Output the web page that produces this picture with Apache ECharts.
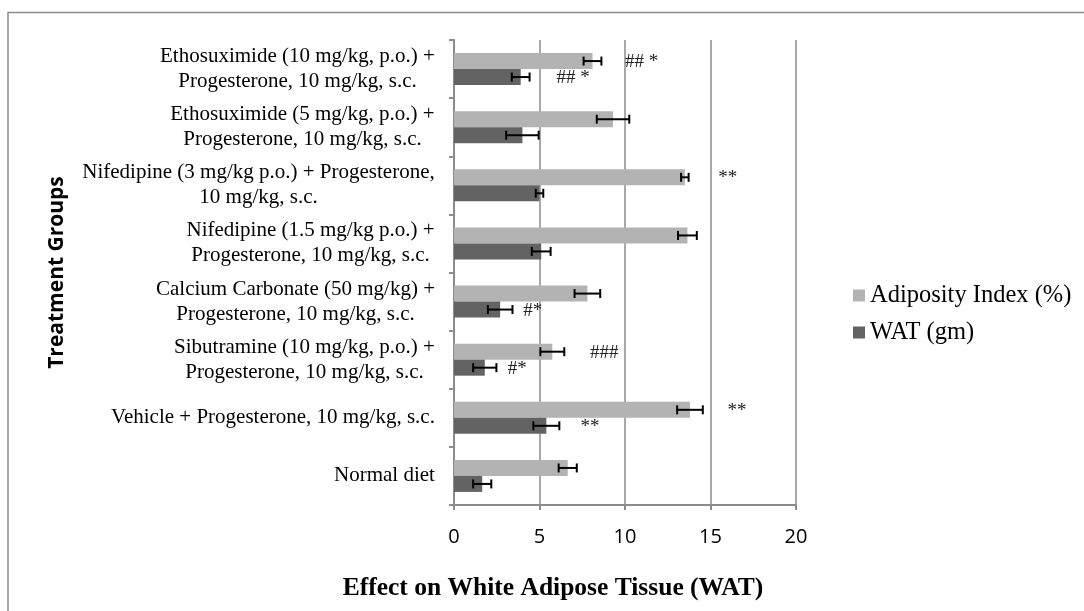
<!DOCTYPE html>
<html>
<head>
<meta charset="utf-8">
<script src="https://cdn.jsdelivr.net/npm/echarts@6/dist/echarts.min.js"></script>
<style>
  html, body { margin: 0; padding: 0; background: #fff; }
  #chart { width: 1084px; height: 611px; }
</style>
</head>
<body>
<div id="chart"></div>
<script>
// groups, top to bottom
const groups = [
  "Ethosuximide (10 mg/kg, p.o.) +\nProgesterone, 10 mg/kg, s.c.",
  "Ethosuximide (5 mg/kg, p.o.) +\nProgesterone, 10 mg/kg, s.c.",
  "Nifedipine (3 mg/kg p.o.) + Progesterone,\n10 mg/kg, s.c.",
  "Nifedipine (1.5 mg/kg p.o.) +\nProgesterone, 10 mg/kg, s.c.",
  "Calcium Carbonate (50 mg/kg) +\nProgesterone, 10 mg/kg, s.c.",
  "Sibutramine (10 mg/kg, p.o.) +\nProgesterone, 10 mg/kg, s.c.",
  "Vehicle + Progesterone, 10 mg/kg, s.c.",
  "Normal diet"
];
const adiposity    = [8.1, 9.3, 13.5, 13.65, 7.8, 5.75, 13.8, 6.65];
const adiposityErr = [0.52, 0.95, 0.22, 0.55, 0.75, 0.7, 0.75, 0.53];
const wat          = [3.9, 4.0, 5.0, 5.1, 2.7, 1.8, 5.4, 1.65];
const watErr       = [0.52, 0.95, 0.22, 0.55, 0.72, 0.68, 0.76, 0.53];
// significance marks and where they sit on the value axis
const adiposityNote  = ["## *", "", "**", "", "", "###", "**", ""];
const adiposityNoteX = [10.0, null, 15.45, null, null, 7.95, 16.0, null];
const watNote        = ["## *", "", "", "", "#*", "#*", "**", ""];
const watNoteX       = [6.0, null, null, null, 4.05, 3.14, 7.4, null];
const xTicks = [0, 5, 10, 15, 20];

const LIGHT = "#b3b3b3";
const DARK = "#636363";
const SERIF = '"Liberation Serif", "Times New Roman", serif';
const CAT_GAP = 0.45;

// measure label lines so each block can be centred but right aligned
const ctx = document.createElement("canvas").getContext("2d");
ctx.font = '21px "Liberation Serif"';
const rich = {};
groups.forEach(function (g, i) {
  const w = Math.max.apply(null, g.split("\n").map(function (l) { return ctx.measureText(l).width; }));
  rich["c" + i] = { width: Math.ceil(w) + 2, align: "center", fontFamily: SERIF, fontSize: 21, lineHeight: 25, color: "#000" };
});

function errSeries(vals, errs, notes, noteXs, side) {
  return {
    type: "custom",
    z: 10,
    silent: true,
    encode: { x: 1, y: 0 },
    data: vals.map(function (v, i) { return [i, v, errs[i]]; }),
    renderItem: function (params, api) {
      const i = api.value(0);
      const v = api.value(1);
      const e = api.value(2);
      const band = api.size([0, 1])[1];
      const bw = band * (1 - CAT_GAP) / 2;
      const c = api.coord([v, i]);
      const y = c[1] + side * bw / 2;
      const lo = api.coord([v - e, i])[0];
      const hi = api.coord([v + e, i])[0];
      const ls = { stroke: "#000", lineWidth: 2 };
      const children = [
        { type: "line", shape: { x1: lo, y1: y, x2: hi, y2: y }, style: ls },
        { type: "line", shape: { x1: lo, y1: y - 4.5, x2: lo, y2: y + 4.5 }, style: ls },
        { type: "line", shape: { x1: hi, y1: y - 4.5, x2: hi, y2: y + 4.5 }, style: ls }
      ];
      const note = notes[i];
      if (note) {
        const nx = api.coord([noteXs[i], i])[0];
        children.push({
          type: "text",
          style: { text: note, x: nx, y: y + 1, fill: "#222", font: "19px " + SERIF, align: "left", verticalAlign: "middle" }
        });
      }
      return { type: "group", children: children };
    }
  };
}

const chart = echarts.init(document.getElementById("chart"), null, { renderer: "canvas" });

const option = {
  animation: false,
  backgroundColor: "#fff",
  graphic: [
    {
      type: "rect",
      shape: { x: 8, y: 12.5, width: 1100, height: 620 },
      style: { fill: null, stroke: "#8c8c8c", lineWidth: 1.5 },
      silent: true
    },
    {
      type: "text",
      x: 553,
      y: 588,
      style: {
        text: "Effect on White Adipose Tissue (WAT)",
        font: "bold 25.5px " + SERIF,
        fill: "#000",
        align: "center",
        verticalAlign: "middle"
      },
      silent: true
    }
  ],
  legend: {
    orient: "vertical",
    left: 848,
    top: 278,
    icon: "rect",
    itemWidth: 12,
    itemHeight: 12,
    itemGap: 12,
    textStyle: { fontFamily: SERIF, fontSize: 24.5, color: "#000" },
    data: ["Adiposity Index (%)", "WAT (gm)"]
  },
  grid: { left: 454, right: 288, top: 40, bottom: 106, containLabel: false, outerBoundsMode: "none" },
  xAxis: {
    type: "value",
    min: 0,
    max: 20,
    interval: 5,
    axisLine: { show: true, lineStyle: { color: "#8c8c8c", width: 2 } },
    axisTick: { show: true, length: 5, lineStyle: { color: "#8c8c8c", width: 2 } },
    axisLabel: {
      margin: 22,
      fontFamily: '"Open Sans", sans-serif',
      fontSize: 20,
      color: "#000",
      formatter: function (v) { return xTicks.indexOf(v) >= 0 ? String(v) : ""; }
    },
    splitLine: { show: true, lineStyle: { color: "#8c8c8c", width: 1.5 } }
  },
  yAxis: {
    type: "category",
    inverse: true,
    data: groups,
    name: "Treatment Groups",
    nameLocation: "middle",
    nameGap: 386,
    nameRotate: 90,
    nameTextStyle: { fontFamily: '"Open Sans", sans-serif', fontSize: 21, fontWeight: "bold", color: "#000" },
    axisLine: { show: true, lineStyle: { color: "#8c8c8c", width: 2 } },
    axisTick: { show: true, length: 5, lineStyle: { color: "#8c8c8c", width: 2 } },
    axisLabel: {
      interval: 0,
      margin: 18,
      align: "right",
      verticalAlign: "middle",
      formatter: function (value, idx) {
        return value.split("\n").map(function (l) { return "{c" + idx + "|" + l + "}"; }).join("\n");
      },
      rich: rich
    },
    splitLine: { show: false }
  },
  series: [
    {
      name: "Adiposity Index (%)",
      type: "bar",
      data: adiposity,
      barGap: "0%",
      barCategoryGap: CAT_GAP * 100 + "%",
      itemStyle: { color: LIGHT }
    },
    {
      name: "WAT (gm)",
      type: "bar",
      data: wat,
      barGap: "0%",
      barCategoryGap: CAT_GAP * 100 + "%",
      itemStyle: { color: DARK }
    },
    errSeries(adiposity, adiposityErr, adiposityNote, adiposityNoteX, -1),
    errSeries(wat, watErr, watNote, watNoteX, 1)
  ]
};

option && chart.setOption(option);
</script>
</body>
</html>
